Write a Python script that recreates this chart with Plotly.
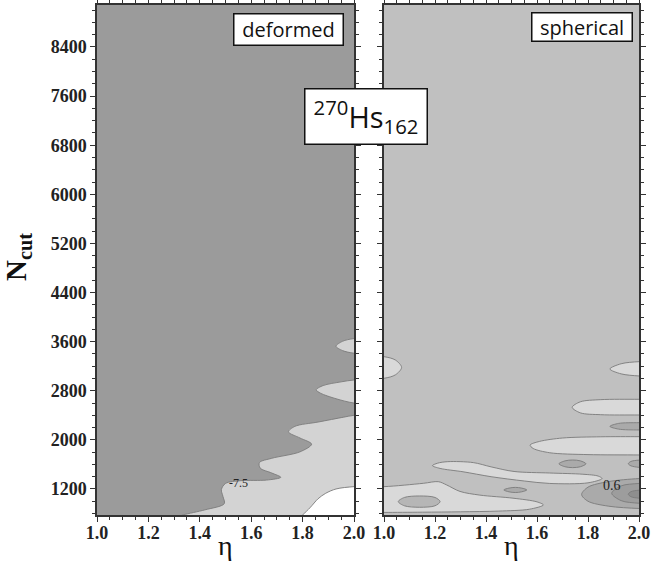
import plotly.graph_objects as go

# ---------------- data ----------------
eta_range = [1.0, 2.0]
ncut_range = [776, 9084]
x_ticks = [1.0, 1.2, 1.4, 1.6, 1.8, 2.0]
y_ticks = [1200, 2000, 2800, 3600, 4400, 5200, 6000, 6800, 7600, 8400]

# deformed panel: contour-region boundaries (eta, Ncut)
def_light_eta = [1.30, 1.335, 1.42, 1.495, 1.49, 1.484, 1.50, 1.56, 1.66, 1.715, 1.68, 1.635, 1.632, 1.68, 1.79, 1.835, 1.79, 1.745, 1.77, 1.86, 1.96, 2.0, 2.1, 2.25, 2.25, 1.25, 1.30]
def_light_n = [720, 776, 860, 960, 1080, 1190, 1290, 1335, 1345, 1390, 1460, 1540, 1630, 1700, 1805, 1930, 2030, 2130, 2220, 2290, 2370, 2400, 2430, 2430, 500, 500, 720]
def_tongue2_eta = [1.853, 1.88, 1.95, 2.0, 2.1, 2.25, 2.25, 2.1, 2.0, 1.93, 1.87, 1.853]
def_tongue2_n = [2815, 2885, 2945, 2975, 2990, 2990, 2580, 2580, 2600, 2670, 2760, 2815]
def_tongue1_eta = [1.93, 1.955, 2.0, 2.1, 2.25, 2.25, 2.1, 2.0, 1.955, 1.93]
def_tongue1_n = [3525, 3605, 3650, 3665, 3665, 3395, 3395, 3412, 3455, 3525]
def_white_eta = [2.0, 1.93, 1.89, 1.86, 1.83, 1.80, 1.78, 1.78, 2.25, 2.25, 2.1, 2.0]
def_white_n = [1238, 1200, 1130, 1040, 900, 776, 700, 500, 500, 1250, 1250, 1238]

# spherical panel: contour-region boundaries (eta, Ncut)
sph_r1_eta = [1.069, 1.045, 1.0, 0.9, 0.75, 0.75, 0.9, 1.0, 1.045, 1.069]
sph_r1_n = [3180, 3300, 3355, 3370, 3370, 2990, 2990, 3003, 3060, 3180]
sph_r2_eta = [1.886, 1.93, 2.0, 2.1, 2.25, 2.25, 2.1, 2.0, 1.93, 1.886]
sph_r2_n = [3155, 3240, 3274, 3280, 3280, 3030, 3030, 3041, 3075, 3155]
sph_r3_eta = [1.738, 1.77, 1.85, 2.0, 2.1, 2.25, 2.25, 2.1, 2.0, 1.85, 1.77, 1.738]
sph_r3_n = [2530, 2620, 2655, 2661, 2662, 2662, 2400, 2402, 2405, 2410, 2440, 2530]
sph_r4_eta = [1.886, 1.92, 2.0, 2.1, 2.25, 2.25, 2.1, 2.0, 1.92, 1.886]
sph_r4_n = [2220, 2268, 2280, 2282, 2282, 2160, 2160, 2161, 2175, 2220]
sph_r5_eta = [1.573, 1.61, 1.70, 1.85, 2.0, 2.1, 2.25, 2.25, 2.1, 2.0, 1.80, 1.65, 1.585, 1.573]
sph_r5_n = [1915, 1975, 2030, 2050, 2052, 2052, 2052, 1750, 1752, 1754, 1760, 1790, 1860, 1915]
sph_r6_eta = [1.686, 1.71, 1.74, 1.77, 1.792, 1.77, 1.74, 1.71, 1.686]
sph_r6_n = [1610, 1658, 1672, 1658, 1610, 1562, 1548, 1562, 1610]
sph_r7_eta = [1.958, 1.968, 2.0, 2.1, 2.25, 2.25, 2.1, 2.0, 1.968, 1.958]
sph_r7_n = [1612, 1648, 1670, 1672, 1672, 1550, 1550, 1552, 1578, 1612]
sph_r8_eta = [1.19, 1.21, 1.25, 1.35, 1.42, 1.51, 1.65, 1.78, 1.84, 1.855, 1.80, 1.65, 1.55, 1.42, 1.31, 1.22, 1.19]
sph_r8_n = [1580, 1620, 1645, 1630, 1560, 1485, 1460, 1440, 1410, 1370, 1300, 1290, 1330, 1400, 1480, 1535, 1580]
sph_r9_eta = [1.0, 1.154, 1.213, 1.246, 1.298, 1.376, 1.506, 1.60, 1.625, 1.57, 1.45, 1.30, 1.15, 1.0, 0.9, 0.75, 0.75, 0.9, 1.0]
sph_r9_n = [1238, 1292, 1319, 1265, 1160, 1100, 1050, 990, 940, 870, 840, 828, 822, 818, 818, 818, 1240, 1240, 1238]
sph_r10_eta = [1.056, 1.08, 1.14, 1.20, 1.22, 1.20, 1.14, 1.08, 1.056]
sph_r10_n = [994, 1062, 1086, 1062, 994, 926, 902, 926, 994]
sph_r11_eta = [1.47, 1.49, 1.515, 1.54, 1.56, 1.54, 1.515, 1.49, 1.47]
sph_r11_n = [1184, 1214, 1226, 1214, 1184, 1154, 1142, 1154, 1184]
sph_r12_eta = [1.775, 1.80, 1.88, 2.0, 2.1, 2.25, 2.25, 2.1, 2.0, 1.88, 1.80, 1.775]
sph_r12_n = [1110, 1230, 1320, 1370, 1380, 1380, 880, 880, 882, 920, 1000, 1110]
sph_r13_eta = [1.893, 1.93, 2.0, 2.1, 2.25, 2.25, 2.1, 2.0, 1.93, 1.893]
sph_r13_n = [1130, 1250, 1290, 1295, 1295, 965, 965, 968, 1010, 1130]
sph_r14_eta = [1.958, 1.968, 2.0, 2.1, 2.25, 2.25, 2.1, 2.0, 1.968, 1.958]
sph_r14_n = [1115, 1155, 1180, 1182, 1182, 1048, 1048, 1050, 1075, 1115]

# contour labels
label_def = ("-7.5", 1.55, 1303)
label_sph = ("0.6", 1.893, 1249)

# ---------------- styling ----------------
C_DEF_BG = "#9b9b9b"
C_DEF_LIGHT = "#d3d3d3"
C_WHITE = "#ffffff"
C_SPH_BG = "#c0c0c0"
C_SPH_LIGHT = "#d9d9d9"
C_SPH_MID = "#b6b6b6"
C_SPH_DARK = "#aaaaaa"
C_SPH_DARKER = "#9d9d9d"
C_SPH_CORE = "#8e8e8e"
LINE_C = "#7a7a7a"

fig = go.Figure()

def region(eta, n, color, xa, ya):
    fig.add_trace(go.Scatter(
        x=eta, y=n, mode="lines", fill="toself", fillcolor=color,
        line=dict(color=LINE_C, width=0.9, shape="spline", smoothing=0.9),
        xaxis=xa, yaxis=ya, hoverinfo="skip", showlegend=False))

# deformed
region(def_light_eta, def_light_n, C_DEF_LIGHT, "x", "y")
region(def_tongue2_eta, def_tongue2_n, C_DEF_LIGHT, "x", "y")
region(def_tongue1_eta, def_tongue1_n, C_DEF_LIGHT, "x", "y")
region(def_white_eta, def_white_n, C_WHITE, "x", "y")

# spherical
for e, n, c in [
    (sph_r1_eta, sph_r1_n, C_SPH_LIGHT),
    (sph_r2_eta, sph_r2_n, C_SPH_LIGHT),
    (sph_r3_eta, sph_r3_n, C_SPH_LIGHT),
    (sph_r4_eta, sph_r4_n, C_SPH_DARK),
    (sph_r5_eta, sph_r5_n, C_SPH_LIGHT),
    (sph_r6_eta, sph_r6_n, C_SPH_DARK),
    (sph_r7_eta, sph_r7_n, C_SPH_DARK),
    (sph_r8_eta, sph_r8_n, C_SPH_LIGHT),
    (sph_r9_eta, sph_r9_n, C_SPH_LIGHT),
    (sph_r10_eta, sph_r10_n, C_SPH_MID),
    (sph_r11_eta, sph_r11_n, C_SPH_DARK),
    (sph_r12_eta, sph_r12_n, C_SPH_DARK),
    (sph_r13_eta, sph_r13_n, C_SPH_DARKER),
    (sph_r14_eta, sph_r14_n, C_SPH_CORE),
]:
    region(e, n, c, "x2", "y2")

W, H = 652, 572
ML, MR, MT, MB = 97, 13, 5, 57
pw = W - ML - MR
split_l = (354 - ML) / pw
split_r = (384 - ML) / pw

tickfont = dict(family="Liberation Serif", size=18, color="#222222", weight="bold")
axis_common = dict(
    showgrid=False, zeroline=False, showline=True, linecolor="#333333", linewidth=1.5,
    mirror="ticks", ticks="outside", ticklen=5, tickwidth=1, tickcolor="#333333",
    tickfont=tickfont, automargin=False,
)
xaxis_common = dict(axis_common, range=eta_range, tickvals=x_ticks,
                    ticktext=[f"{v:.1f}" for v in x_ticks], ticklabelstandoff=-4,
                    minor=dict(dtick=0.05, tick0=1.0, ticklen=3, ticks="outside", tickcolor="#333333"))
yaxis_common = dict(axis_common, range=ncut_range, tickvals=y_ticks,
                    minor=dict(dtick=200, tick0=1200, ticklen=3, ticks="outside", tickcolor="#333333"))

fig.update_layout(
    width=W, height=H,
    margin=dict(l=ML, r=MR, t=MT, b=MB),
    paper_bgcolor="white", plot_bgcolor="white",
    xaxis=dict(xaxis_common, domain=[0, split_l], anchor="y"),
    xaxis2=dict(xaxis_common, domain=[split_r, 1], anchor="y2"),
    yaxis=dict(yaxis_common, domain=[0, 1], anchor="x"),
    yaxis2=dict(yaxis_common, domain=[0, 1], anchor="x2", matches="y", showticklabels=False),
    shapes=[
        dict(type="rect", xref="x domain", yref="y domain", x0=0, x1=1, y0=0, y1=1,
             fillcolor=C_DEF_BG, line=dict(width=0), layer="below"),
        dict(type="rect", xref="x2 domain", yref="y2 domain", x0=0, x1=1, y0=0, y1=1,
             fillcolor=C_SPH_BG, line=dict(width=0), layer="below"),
    ],
)

def px_to_paper(px, py):
    return (px - ML) / pw, (H - MB - py) / (H - MT - MB)

ann = []
# contour labels
ann.append(dict(text=label_def[0], x=label_def[1], y=label_def[2], xref="x", yref="y",
                showarrow=False, font=dict(family="Liberation Serif", size=12, color="#222222")))
ann.append(dict(text=label_sph[0], x=label_sph[1], y=label_sph[2], xref="x2", yref="y2",
                showarrow=False, font=dict(family="Liberation Serif", size=14, color="#222222")))

box_font = dict(family="Open Sans", size=20, color="#111111")
for txt, cx, cy, bw, bh, fnt in [
    ("deformed", 288.5, 29.5, 111, 33, box_font),
    ("spherical", 582, 27, 102, 30, box_font),
    ("<sup>270</sup>Hs<sub>162</sub>", 366, 116.5, 124, 57, dict(family="Open Sans", size=29, color="#111111")),
]:
    px, py = px_to_paper(cx, cy)
    ann.append(dict(text=txt, x=px, y=py, xref="paper", yref="paper", xanchor="center", yanchor="middle",
                    showarrow=False, font=fnt, bgcolor="white", bordercolor="#111111",
                    borderwidth=1.5, borderpad=1, width=bw - 5, height=bh - 5))

# axis titles
for cx in (225.5, 511.5):
    px, py = px_to_paper(cx, 545)
    ann.append(dict(text="η", x=px, y=py, xref="paper", yref="paper", xanchor="center", yanchor="middle",
                    showarrow=False, font=dict(family="Liberation Serif", size=28, color="#111111")))
px, py = px_to_paper(18, 257)
ann.append(dict(text="N<sub>cut</sub>", x=px, y=py, xref="paper", yref="paper", textangle=-90,
                showarrow=False, xanchor="center", yanchor="middle",
                font=dict(family="Liberation Serif", size=29, color="#111111", weight="bold")))
fig.update_layout(annotations=ann)

fig.write_html("out.html", config={"displayModeBar": False},
               post_script="document.body.style.margin='0';document.body.style.overflow='hidden';")
